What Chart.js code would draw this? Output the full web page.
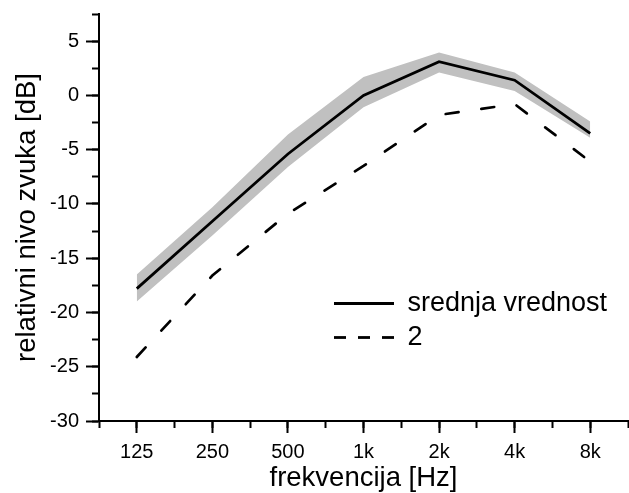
<!DOCTYPE html>
<html>
<head>
<meta charset="utf-8">
<script src="https://cdn.jsdelivr.net/npm/chart.js@4.4.1/dist/chart.umd.min.js"></script>
<style>
  html, body { margin: 0; padding: 0; background: #fff; }
  #chart { display: block; }
</style>
</head>
<body>
<canvas id="chart" width="629" height="493"></canvas>
<script>
// --- Data ---
const freqLabels = ['125', '250', '500', '1k', '2k', '4k', '8k'];
const meanLevel  = [-17.8, -11.6, -5.4, 0.0, 3.1, 1.4, -3.5];
const bandUpper  = [-16.5, -10.3, -3.6, 1.7, 3.95, 2.1, -2.4];
const bandLower  = [-19.0, -12.9, -6.6, -1.1, 2.1, 0.4, -3.9];
const series2    = [-24.1, -16.6, -10.9, -6.5, -1.8, -0.8, -6.1];

const FONT = 'Liberation Sans, Arial, sans-serif';

// legend box top-left (canvas px) - placed inside the plot like the original
const LEGEND_X = 334;
const LEGEND_Y = 290;
const LEGEND_PAD = 7;

function toPoints(values) {
    return values.map((v, i) => ({ x: i, y: v }));
}

// the tick labels never reach past the plot edges here, so drop their padding
function noLabelPadding(scale) {
    scale.paddingTop = 0;
    scale.paddingBottom = 0;
}

// Move the built-in legend to a free spot inside the plot
const legendMover = {
    id: 'legendMover',
    afterLayout(chart) {
        const lg = chart.legend;
        if (!lg) return;
        lg.left = LEGEND_X - LEGEND_PAD;
        lg.top = LEGEND_Y - LEGEND_PAD;
        lg.right = lg.left + 300;
        lg.bottom = lg.top + 200;
    }
};

const ctx = document.getElementById('chart').getContext('2d');
new Chart(ctx, {
    type: 'line',
    data: {
        datasets: [
            {
                label: 'upper',
                data: toPoints(bandUpper),
                borderWidth: 0,
                borderColor: 'rgba(0,0,0,0)',
                backgroundColor: 'rgb(192,192,192)',
                fill: '+1',
                pointRadius: 0,
                order: 5,
                xAxisID: 'x', yAxisID: 'y'
            },
            {
                label: 'lower',
                data: toPoints(bandLower),
                borderWidth: 0,
                borderColor: 'rgba(0,0,0,0)',
                fill: false,
                pointRadius: 0,
                order: 5,
                xAxisID: 'x', yAxisID: 'y'
            },
            {
                label: 'srednja vrednost',
                data: toPoints(meanLevel),
                borderColor: '#000',
                backgroundColor: '#000',
                borderWidth: 2.8,
                pointRadius: 0,
                fill: false,
                order: 1,
                xAxisID: 'x', yAxisID: 'y'
            },
            {
                label: '2',
                data: toPoints(series2),
                borderColor: '#000',
                backgroundColor: '#000',
                borderWidth: 2.7,
                borderDash: [13, 23],
                borderCapStyle: 'round',
                pointRadius: 0,
                fill: false,
                order: 0,
                xAxisID: 'x', yAxisID: 'y'
            }
        ]
    },
    options: {
        responsive: false,
        animation: false,
        devicePixelRatio: 1,
        layout: { padding: { top: 14, right: 1, left: 0, bottom: 0 } },
        elements: { line: { tension: 0 } },
        scales: {
            x: {
                type: 'linear',
                axis: 'x',
                position: 'bottom',
                min: -0.5,
                max: 6.5,
                // keep only the whole-number ticks (category centres)
                afterBuildTicks: (scale) => {
                    scale.ticks = scale.ticks.filter(t => Number.isInteger(t.value));
                },
                afterFit: (scale) => { scale.height = 72; },
                ticks: {
                    stepSize: 0.5,
                    autoSkip: false,
                    maxRotation: 0,
                    padding: 7,
                    color: '#000',
                    font: { family: FONT, size: 20 },
                    callback: (value) => freqLabels[value] !== undefined ? freqLabels[value] : ''
                },
                grid: { drawOnChartArea: false, tickLength: 12, tickWidth: 2, tickColor: '#000' },
                border: { color: '#000', width: 2 },
                title: {
                    display: true,
                    text: 'frekvencija [Hz]',
                    color: '#000',
                    font: { family: FONT, size: 27.5, lineHeight: 1 },
                    padding: { top: 0, bottom: 1 }
                }
            },
            // minor ticks along the bottom
            x2: {
                type: 'linear',
                axis: 'x',
                position: { y: -30 },
                min: -0.5,
                max: 6.5,
                ticks: { display: false, stepSize: 0.5 },
                grid: { drawOnChartArea: false, tickLength: 7, tickWidth: 2, tickColor: '#000' },
                border: { display: false }
            },
            y: {
                type: 'linear',
                axis: 'y',
                position: 'left',
                min: -30,
                max: 7.5,
                afterBuildTicks: (scale) => {
                    scale.ticks = scale.ticks.filter(t => t.value % 5 === 0);
                },
                afterFit: (scale) => { scale.width = 99; noLabelPadding(scale); },
                ticks: {
                    stepSize: 2.5,
                    padding: 7,
                    color: '#000',
                    font: { family: FONT, size: 20 },
                    callback: (value) => String(value)
                },
                grid: { drawOnChartArea: false, tickLength: 13, tickWidth: 2, tickColor: '#000' },
                border: { color: '#000', width: 2 },
                title: {
                    display: true,
                    text: 'relativni nivo zvuka [dB]',
                    color: '#000',
                    font: { family: FONT, size: 27.5, lineHeight: 1 },
                    padding: { top: 14, bottom: 0 }
                }
            },
            // minor ticks along the left
            y2: {
                type: 'linear',
                axis: 'y',
                position: { x: -0.5 },
                min: -30,
                max: 7.5,
                afterFit: noLabelPadding,
                ticks: { display: false, stepSize: 2.5 },
                grid: { drawOnChartArea: false, tickLength: 7, tickWidth: 2, tickColor: '#000' },
                border: { display: false }
            }
        },
        plugins: {
            filler: { drawTime: 'beforeDatasetsDraw' },
            tooltip: { enabled: false },
            legend: {
                display: true,
                position: 'chartArea',
                align: 'start',
                labels: {
                    color: '#000',
                    font: { family: FONT, size: 27 },
                    usePointStyle: true,
                    pointStyle: 'line',
                    pointStyleWidth: 60,
                    padding: LEGEND_PAD,
                    generateLabels: (chart) => {
                        const items = Chart.defaults.plugins.legend.labels.generateLabels(chart)
                            .filter(item => item.datasetIndex >= 2)
                            .sort((a, b) => a.datasetIndex - b.datasetIndex);
                        items.forEach(item => {
                            item.lineWidth = 2.8;
                            item.lineCap = 'butt';
                            item.lineDash = item.datasetIndex === 3 ? [12, 12] : [];
                        });
                        return items;
                    }
                }
            }
        }
    },
    plugins: [legendMover]
});
</script>
</body>
</html>
